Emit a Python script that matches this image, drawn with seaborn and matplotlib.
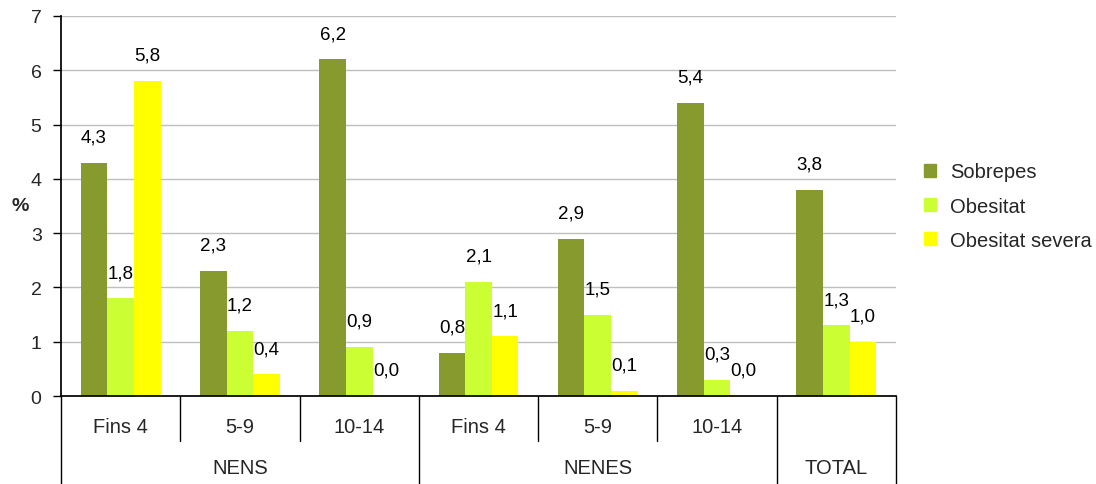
import pandas as pd
import matplotlib
matplotlib.use("Agg")
import matplotlib.pyplot as plt
import seaborn as sns
from matplotlib.patches import Patch

# Data
categories = ["Fins 4", "5-9", "10-14", "Fins 4 ", "5-9 ", "10-14 ", "TOTAL"]
cat_labels = ["Fins 4", "5-9", "10-14", "Fins 4", "5-9", "10-14", ""]
groups = ["NENS", "NENES", "TOTAL"]
group_spans = [(0, 3), (3, 6), (6, 7)]
series = ["Sobrepes", "Obesitat", "Obesitat severa"]
sobrepes = [4.3, 2.3, 6.2, 0.8, 2.9, 5.4, 3.8]
obesitat = [1.8, 1.2, 0.9, 2.1, 1.5, 0.3, 1.3]
obesitat_severa = [5.8, 0.4, 0.0, 1.1, 0.1, 0.0, 1.0]
colors = ["#879A2E", "#CCFF33", "#FFFF00"]

rows = []
for name, vals in zip(series, [sobrepes, obesitat, obesitat_severa]):
    for cat, v in zip(categories, vals):
        rows.append({"cat": cat, "serie": name, "value": v})
df = pd.DataFrame(rows)

sns.set_theme(style="white")
plt.rcParams['font.family'] = ['Liberation Sans', 'DejaVu Sans']

fig = plt.figure(figsize=(10.96, 4.85), dpi=100)
ax = fig.add_axes([0.0557, 0.1814, 0.7618, 0.7836])

sns.barplot(data=df, x="cat", y="value", hue="serie", order=categories,
            hue_order=series, palette=colors, width=0.67, gap=0,
            saturation=1, linewidth=0, legend=False, ax=ax)

# value labels
for cont in ax.containers:
    for bar in cont:
        h = bar.get_height()
        ax.annotate(f"{h:.1f}".replace(".", ","),
                    (bar.get_x() + bar.get_width() / 2, h),
                    xytext=(0, 18.5), textcoords="offset points",
                    ha="center", va="center", fontsize=13.5, color="black")

ax.set_xlim(-0.5, 6.5)
ax.set_ylim(0, 7)
ax.set_yticks(range(0, 8))
ax.yaxis.grid(True, color="#BFBFBF", linewidth=1)
ax.set_axisbelow(True)
for s in ["top", "right"]:
    ax.spines[s].set_visible(False)
ax.spines["left"].set_color("black")
ax.spines["bottom"].set_color("black")
ax.tick_params(axis="y", left=True, length=6, width=1, color="black",
               labelsize=14, pad=8)
ax.set_xticks([])
ax.set_xlabel("")
ax.set_ylabel("%", rotation=0, fontsize=14, fontweight="bold", va="center",
              ha="center")
ax.yaxis.set_label_coords(-0.049, 0.5)

# category table under the axis
tr = ax.get_xaxis_transform()
short, long_ = -0.118, -0.232
group_edges = {-0.5, 2.5, 5.5, 6.5}
for b in [-0.5 + i for i in range(8)]:
    y1 = long_ if b in group_edges else short
    ax.plot([b, b], [0, y1], color="black", lw=1, transform=tr, clip_on=False)
for i, lab in enumerate(cat_labels):
    ax.text(i, -0.079, lab, transform=tr, ha="center", va="center",
            fontsize=14.5)
for g, (a, b) in zip(groups, group_spans):
    ax.text((a + b - 1) / 2, -0.189, g, transform=tr, ha="center",
            va="center", fontsize=14.5)

handles = [Patch(color=c, label=s) for c, s in zip(colors, series)]
fig.legend(handles=handles, loc="center left", bbox_to_anchor=(0.8265, 0.573),
           frameon=False, fontsize=14.5, handlelength=0.6, handleheight=0.6,
           labelspacing=0.75, handletextpad=0.7)

fig.savefig("out.png", dpi=100)
